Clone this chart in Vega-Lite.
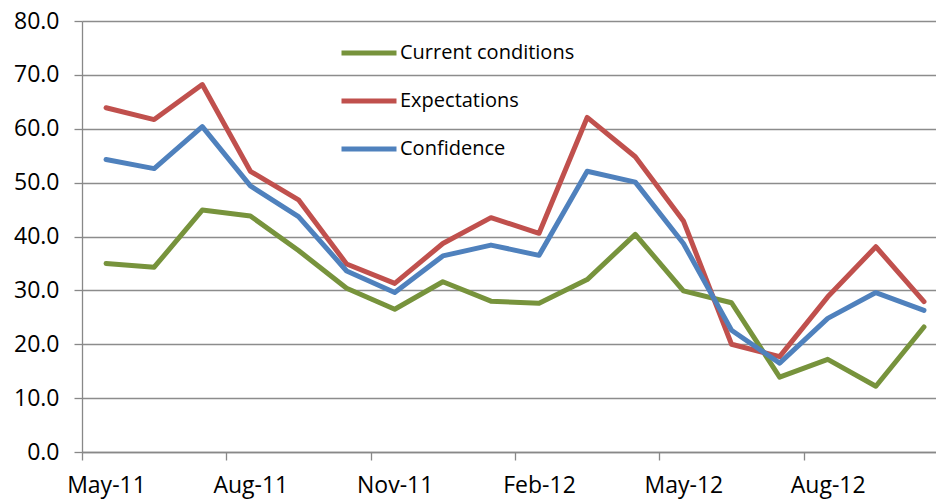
{
  "$schema": "https://vega.github.io/schema/vega-lite/v6.json",
  "autosize": "none",
  "width": 854,
  "height": 431,
  "padding": {"left": 82, "top": 21, "right": 0, "bottom": 49},
  "background": "white",
  "config": {
    "font": "Open Sans",
    "view": {"stroke": null},
    "axis": {"labelColor": "black", "labelFont": "Open Sans", "domainColor": "#888888", "tickColor": "#888888", "gridColor": "#8c8c8c", "domainWidth": 1.3, "tickWidth": 1.3, "gridWidth": 1.3}
  },
  "data": {
    "values": [
      {"month": "May-11", "i": 0, "series": "Current conditions", "value": 35.0},
      {"month": "Jun-11", "i": 1, "series": "Current conditions", "value": 34.3},
      {"month": "Jul-11", "i": 2, "series": "Current conditions", "value": 44.9},
      {"month": "Aug-11", "i": 3, "series": "Current conditions", "value": 43.8},
      {"month": "Sep-11", "i": 4, "series": "Current conditions", "value": 37.4},
      {"month": "Oct-11", "i": 5, "series": "Current conditions", "value": 30.4},
      {"month": "Nov-11", "i": 6, "series": "Current conditions", "value": 26.5},
      {"month": "Dec-11", "i": 7, "series": "Current conditions", "value": 31.6},
      {"month": "Jan-12", "i": 8, "series": "Current conditions", "value": 28.0},
      {"month": "Feb-12", "i": 9, "series": "Current conditions", "value": 27.6},
      {"month": "Mar-12", "i": 10, "series": "Current conditions", "value": 32.0},
      {"month": "Apr-12", "i": 11, "series": "Current conditions", "value": 40.4},
      {"month": "May-12", "i": 12, "series": "Current conditions", "value": 29.9},
      {"month": "Jun-12", "i": 13, "series": "Current conditions", "value": 27.7},
      {"month": "Jul-12", "i": 14, "series": "Current conditions", "value": 13.9},
      {"month": "Aug-12", "i": 15, "series": "Current conditions", "value": 17.2},
      {"month": "Sep-12", "i": 16, "series": "Current conditions", "value": 12.2},
      {"month": "Oct-12", "i": 17, "series": "Current conditions", "value": 23.2},
      {"month": "May-11", "i": 0, "series": "Expectations", "value": 63.9},
      {"month": "Jun-11", "i": 1, "series": "Expectations", "value": 61.7},
      {"month": "Jul-11", "i": 2, "series": "Expectations", "value": 68.2},
      {"month": "Aug-11", "i": 3, "series": "Expectations", "value": 52.1},
      {"month": "Sep-11", "i": 4, "series": "Expectations", "value": 46.8},
      {"month": "Oct-11", "i": 5, "series": "Expectations", "value": 34.9},
      {"month": "Nov-11", "i": 6, "series": "Expectations", "value": 31.3},
      {"month": "Dec-11", "i": 7, "series": "Expectations", "value": 38.7},
      {"month": "Jan-12", "i": 8, "series": "Expectations", "value": 43.5},
      {"month": "Feb-12", "i": 9, "series": "Expectations", "value": 40.6},
      {"month": "Mar-12", "i": 10, "series": "Expectations", "value": 62.1},
      {"month": "Apr-12", "i": 11, "series": "Expectations", "value": 54.8},
      {"month": "May-12", "i": 12, "series": "Expectations", "value": 42.9},
      {"month": "Jun-12", "i": 13, "series": "Expectations", "value": 20.0},
      {"month": "Jul-12", "i": 14, "series": "Expectations", "value": 17.7},
      {"month": "Aug-12", "i": 15, "series": "Expectations", "value": 28.8},
      {"month": "Sep-12", "i": 16, "series": "Expectations", "value": 38.1},
      {"month": "Oct-12", "i": 17, "series": "Expectations", "value": 27.9},
      {"month": "May-11", "i": 0, "series": "Confidence", "value": 54.3},
      {"month": "Jun-11", "i": 1, "series": "Confidence", "value": 52.6},
      {"month": "Jul-11", "i": 2, "series": "Confidence", "value": 60.4},
      {"month": "Aug-11", "i": 3, "series": "Confidence", "value": 49.4},
      {"month": "Sep-11", "i": 4, "series": "Confidence", "value": 43.7},
      {"month": "Oct-11", "i": 5, "series": "Confidence", "value": 33.6},
      {"month": "Nov-11", "i": 6, "series": "Confidence", "value": 29.6},
      {"month": "Dec-11", "i": 7, "series": "Confidence", "value": 36.4},
      {"month": "Jan-12", "i": 8, "series": "Confidence", "value": 38.4},
      {"month": "Feb-12", "i": 9, "series": "Confidence", "value": 36.5},
      {"month": "Mar-12", "i": 10, "series": "Confidence", "value": 52.1},
      {"month": "Apr-12", "i": 11, "series": "Confidence", "value": 50.1},
      {"month": "May-12", "i": 12, "series": "Confidence", "value": 38.7},
      {"month": "Jun-12", "i": 13, "series": "Confidence", "value": 22.6},
      {"month": "Jul-12", "i": 14, "series": "Confidence", "value": 16.5},
      {"month": "Aug-12", "i": 15, "series": "Confidence", "value": 24.8},
      {"month": "Sep-12", "i": 16, "series": "Confidence", "value": 29.6},
      {"month": "Oct-12", "i": 17, "series": "Confidence", "value": 26.3}
    ]
  },
  "mark": {"type": "line", "strokeWidth": 5, "strokeJoin": "round", "strokeCap": "round"},
  "encoding": {
    "x": {
      "field": "i",
      "type": "quantitative",
      "scale": {"domain": [-0.5, 17.25], "nice": false, "zero": false},
      "axis": {
        "title": null,
        "grid": false,
        "values": [-0.5, 2.5, 5.5, 8.5, 11.5, 14.5],
        "labelExpr": "['May-11','Aug-11','Nov-11','Feb-12','May-12','Aug-12'][round((datum.value + 0.5) / 3)]",
        "labelOffset": 24,
        "labelFlush": false,
        "labelOverlap": false,
        "labelFontSize": 23,
        "tickSize": 8,
        "labelPadding": 14
      }
    },
    "y": {
      "field": "value",
      "type": "quantitative",
      "scale": {"domain": [0, 80], "nice": false},
      "axis": {
        "title": null,
        "values": [0, 10, 20, 30, 40, 50, 60, 70, 80],
        "format": ".1f",
        "labelFontSize": 23,
        "tickSize": 8,
        "labelPadding": 15
      }
    },
    "color": {
      "field": "series",
      "type": "nominal",
      "scale": {"domain": ["Current conditions", "Expectations", "Confidence"], "range": ["#77933C", "#C0504D", "#4F81BD"]},
      "legend": {
        "title": null,
        "orient": "none",
        "legendX": 257,
        "legendY": 18,
        "padding": 0,
        "symbolType": "stroke",
        "symbolSize": 3025,
        "symbolStrokeWidth": 5,
        "labelFontSize": 20,
        "labelFont": "Open Sans",
        "labelColor": "black",
        "labelLimit": 0,
        "labelOffset": 1,
        "clipHeight": 28,
        "rowPadding": 20
      }
    }
  }
}
